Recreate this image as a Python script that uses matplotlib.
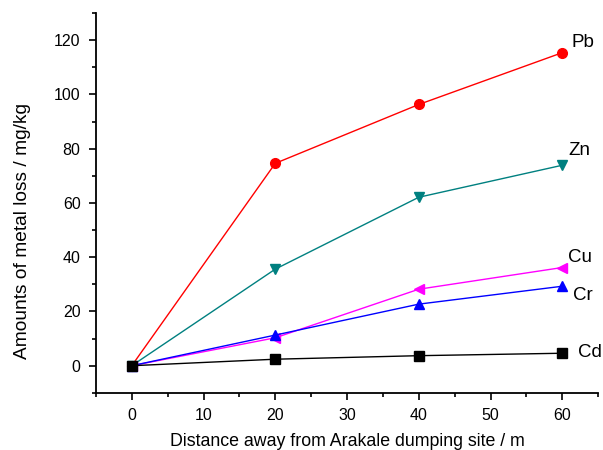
import matplotlib
matplotlib.use('Agg')
import matplotlib.pyplot as plt
from matplotlib.ticker import MultipleLocator

plt.rcParams['font.family'] = ['Liberation Sans', 'DejaVu Sans']

distance = [0, 20, 40, 60]
pb = [0, 74.6, 96.3, 115.4]
zn = [0, 35.6, 62.1, 73.9]
cu = [0, 10.3, 28.2, 36.2]
cr = [0, 11.3, 22.7, 29.3]
cd = [0, 2.4, 3.7, 4.6]

metals = ['Pb', 'Zn', 'Cu', 'Cr', 'Cd']
series = [pb, zn, cu, cr, cd]
colors = ['#ff0000', '#008080', '#ff00ff', '#0000ff', '#000000']
markers = ['o', 'v', '<', '^', 's']
label_pos = [(61.3, 119.1), (60.8, 79.4), (60.8, 40.0), (61.5, 26.0), (62.2, 5.0)]

fig = plt.figure(figsize=(6.03, 4.5), dpi=100)
ax = fig.add_axes([0.159, 0.127, 0.833, 0.844])

for name, vals, c, m, pos in zip(metals, series, colors, markers, label_pos):
    ax.plot(distance, vals, color=c, marker=m, markersize=7, linewidth=1)
    ax.text(pos[0], pos[1], name, fontsize=13.5, ha='left', va='center')

ax.set_xlim(-5, 65)
ax.set_ylim(-10, 130)
ax.xaxis.set_major_locator(MultipleLocator(10))
ax.xaxis.set_minor_locator(MultipleLocator(5))
ax.yaxis.set_major_locator(MultipleLocator(20))
ax.yaxis.set_minor_locator(MultipleLocator(10))
ax.tick_params(which='major', direction='out', length=5, width=1.2, labelsize=11.5, pad=6)
ax.tick_params(which='minor', direction='out', length=3, width=1.2)
ax.spines['top'].set_visible(False)
ax.spines['right'].set_visible(False)
ax.spines['left'].set_linewidth(1.3)
ax.spines['bottom'].set_linewidth(1.3)

ax.set_xlabel('Distance away from Arakale dumping site / m', fontsize=12.8)
ax.set_ylabel('Amounts of metal loss / mg/kg', fontsize=13.8)
ax.xaxis.set_label_coords(0.5, -0.105)
ax.yaxis.set_label_coords(-0.13, 0.425)

fig.savefig('out.png', dpi=100)
